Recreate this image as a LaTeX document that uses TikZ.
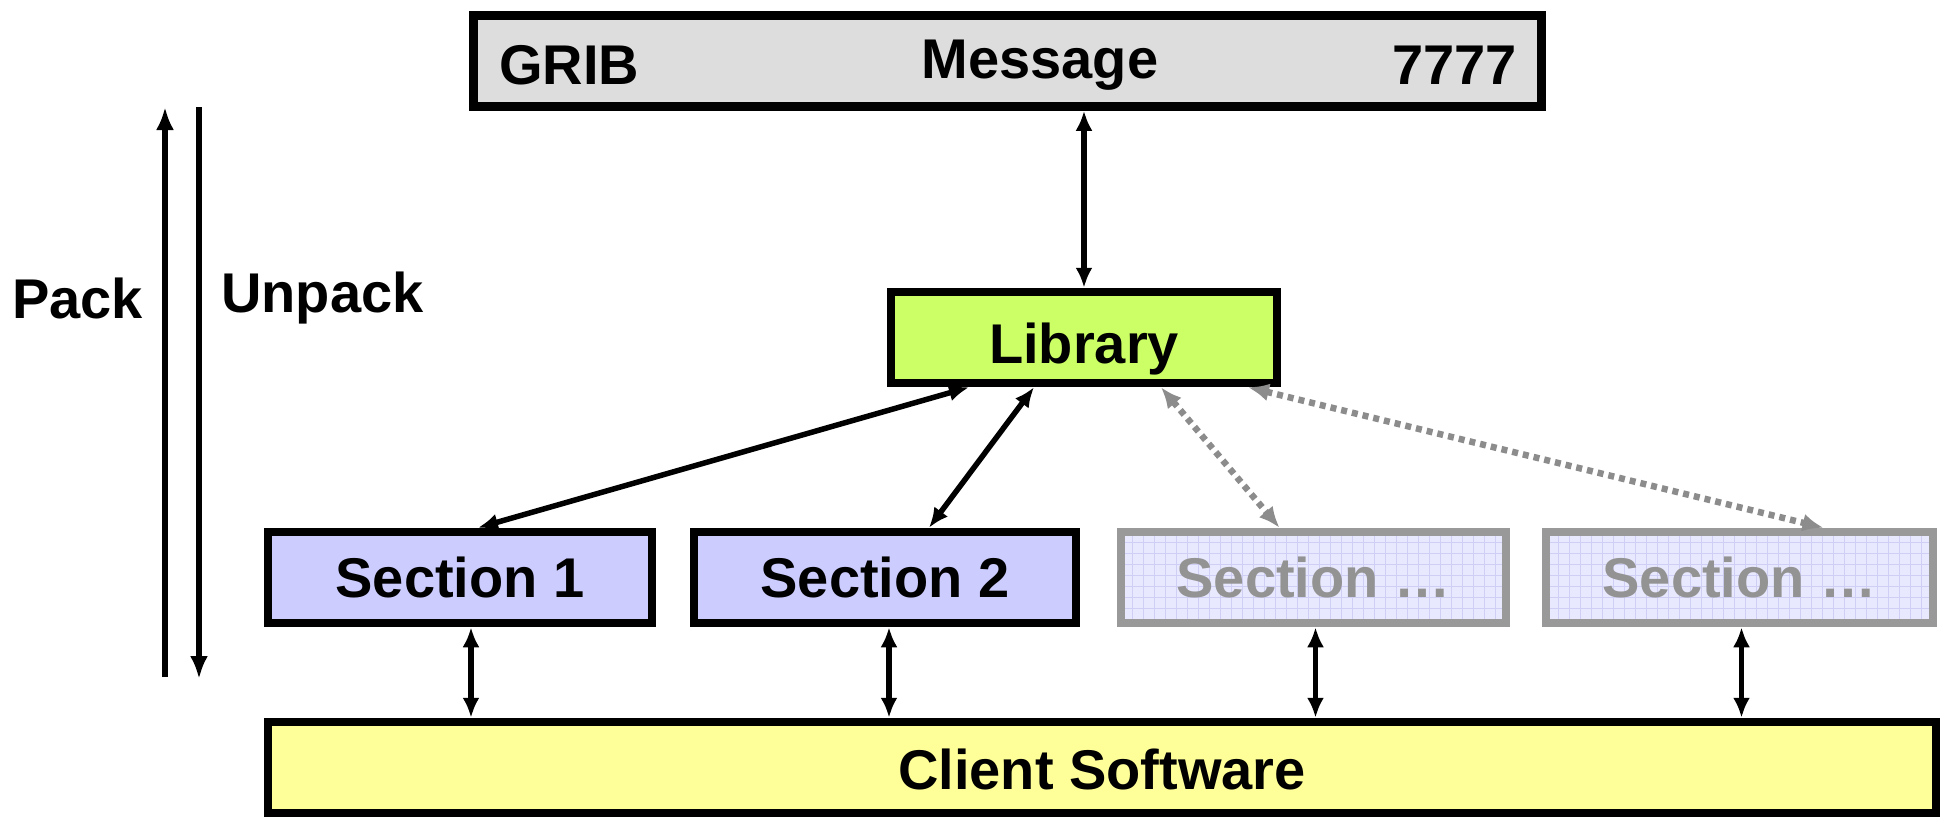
\documentclass[tikz,border=0pt]{standalone}
\usepackage{fontspec}
\setmainfont{Liberation Sans}
\usetikzlibrary{arrows.meta,calc}
\definecolor{gribfill}{HTML}{DDDDDD}
\definecolor{libfill}{HTML}{CCFF66}
\definecolor{secfill}{HTML}{CCCCFF}
\definecolor{ghostfill}{HTML}{E8E8FF}
\definecolor{ghostgrid}{HTML}{CFCFF5}
\definecolor{ghostline}{HTML}{999999}
\definecolor{ghosttext}{HTML}{939393}
\definecolor{dotgray}{HTML}{8C8C8C}
\definecolor{clientfill}{HTML}{FFFF99}
\tikzset{
  box/.style={draw=black, line width=8.5pt, minimum height=91pt, inner sep=0pt,
    font=\fontsize{56}{60}\selectfont\bfseries},
  ghost/.style={box, draw=ghostline, fill=ghostfill, text=ghosttext,
    path picture={\draw[ghostgrid, line width=0.8pt]
      (path picture bounding box.south west) grid[step=11pt] (path picture bounding box.north east);}},
  conn/.style={line width=5.5pt, {Latex[length=20pt,width=17pt]}-{Latex[length=20pt,width=17pt]}},
  dotconn/.style={dotgray, line width=6.5pt, dash pattern=on 6pt off 5pt,
    {Latex[length=21pt,width=18pt]}-{Latex[length=21pt,width=18pt]}},
  bigarrow/.style={line width=6.5pt, -{Latex[length=23pt,width=18pt]}},
  lbl/.style={font=\fontsize{56}{60}\selectfont\bfseries, inner sep=0pt}
}
\begin{document}
\begin{tikzpicture}[x=1pt,y=-1pt]
\useasboundingbox (0,0) rectangle (1947,819);
% GRIB message
\node[box, fill=gribfill, minimum width=1068pt] (grib) at (1007.5,61) {};
\node[lbl, anchor=west] (gribt) at (499,65) {GRIB};
\node[lbl] (msgt) at (1040,65) {Message};
\node[lbl, anchor=east] (sevt) at (1517,65) {7777};
% Library
\node[box, fill=libfill, minimum width=386pt, text height=52pt, text depth=0pt] (lib) at (1084,337.5) {Library};
% Sections
\node[box, fill=secfill, minimum width=384pt] (s1) at (460,577.5) {Section 1};
\node[box, fill=secfill, minimum width=382pt] (s2) at (885,577.5) {Section 2};
\node[ghost, minimum width=385pt] (s3) at (1313.5,577.5) {Section …};
\node[ghost, minimum width=387pt] (s4) at (1739.5,577.5) {Section …};
% Client
\node[box, fill=clientfill, minimum width=1668pt, text height=44pt, text depth=0pt] (client) at (1102,767.5) {Client Software};
% Pack / Unpack
\coordinate (pb) at (165,677);
\coordinate (pt) at (165,107);
\coordinate (ut) at (199,107);
\coordinate (ub) at (199,679);
\draw[bigarrow] (pb) -- (pt);
\draw[bigarrow] (ut) -- (ub);
\node[lbl, anchor=east] (pack) at (143,298) {Pack};
\node[lbl, anchor=west] (unpack) at (221,298) {Unpack};
% connectors
\draw[conn] (lib.north |- grib.south) -- (lib.north);
\draw[conn] ([xshift=-115pt]lib.south) -- ([xshift=18pt]s1.north);
\draw[conn] ([xshift=-50pt]lib.south) -- ([xshift=44pt]s2.north);
\draw[dotconn] ([xshift=77pt]lib.south) -- ([xshift=-34pt]s3.north);
\draw[dotconn] ([xshift=164pt]lib.south) -- ([xshift=84pt]s4.north);
\draw[conn] ([xshift=11pt]s1.south) -- ([xshift=11pt]s1.south |- client.north);
\draw[conn] ([xshift=4pt]s2.south) -- ([xshift=4pt]s2.south |- client.north);
\draw[conn] ([xshift=2pt]s3.south) -- ([xshift=2pt]s3.south |- client.north);
\draw[conn] ([xshift=2pt]s4.south) -- ([xshift=2pt]s4.south |- client.north);
\end{tikzpicture}
\end{document}
